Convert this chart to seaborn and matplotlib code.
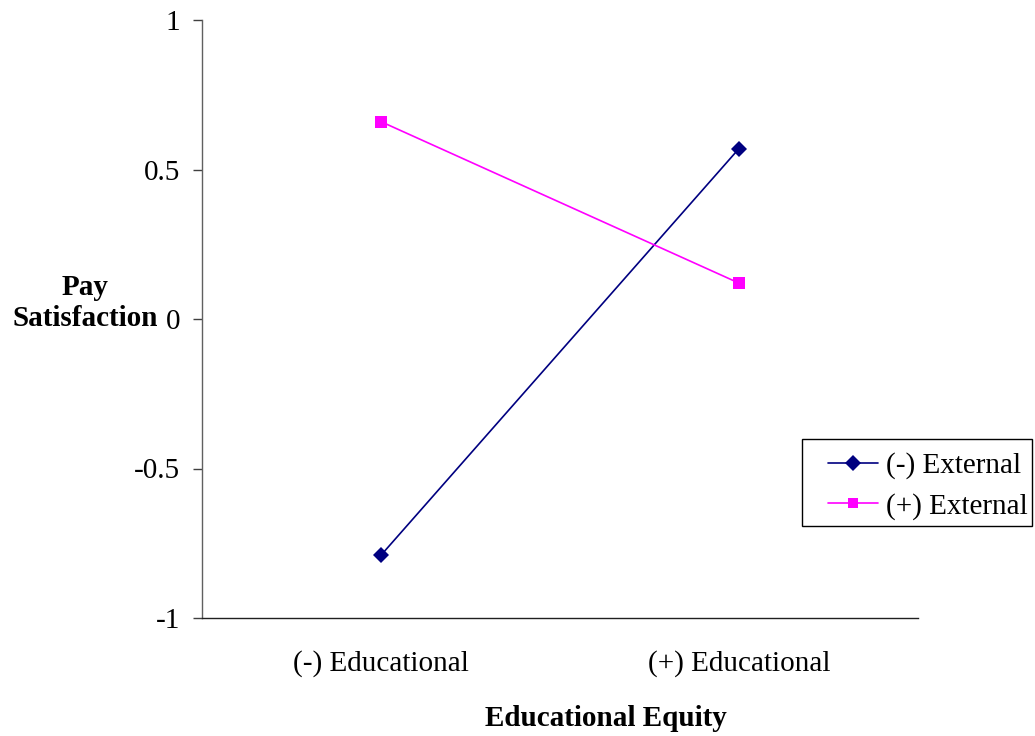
import matplotlib
matplotlib.use("Agg")
import matplotlib.pyplot as plt
import seaborn as sns
import pandas as pd
from matplotlib.lines import Line2D
from matplotlib.patches import Rectangle

categories = ["(-) Educational", "(+) Educational"]
series_names = ["(-) External", "(+) External"]
neg_external = [-0.79, 0.57]
pos_external = [0.66, 0.12]
y_ticks = [-1, -0.5, 0, 0.5, 1]
y_tick_labels = ["-1", "-0.5", "0", "0.5", "1"]

rows = []
for name, vals in zip(series_names, [neg_external, pos_external]):
    for c, v in zip(categories, vals):
        rows.append({"cat": c, "val": v, "series": name})
df = pd.DataFrame(rows)

sns.set_style("white")
plt.rcParams["font.family"] = ["Liberation Serif", "DejaVu Serif"]
plt.rcParams["text.color"] = "black"
plt.rcParams["axes.labelcolor"] = "black"
plt.rcParams["xtick.color"] = "black"
plt.rcParams["ytick.color"] = "black"

W, H = 1035, 736
fig = plt.figure(figsize=(W/100, H/100), dpi=100)
ax = fig.add_axes([202/W, 1-618/H, (918-202)/W, (618-20)/H])

palette = {series_names[0]: "#000080", series_names[1]: "#FF00FF"}
markers = {series_names[0]: "D", series_names[1]: "s"}
sns.lineplot(data=df, x="cat", y="val", hue="series", style="series",
             palette=palette, markers=markers, dashes=False, ax=ax,
             linewidth=1.2, markersize=8, markeredgewidth=0, legend=False)

ax.set_xlim(-0.5, 1.5)
ax.set_ylim(-1, 1)
ax.set_yticks(y_ticks)
ax.set_yticklabels(y_tick_labels)
ax.tick_params(axis="y", length=6.5, width=1, color="#404040", pad=9, labelsize=21, left=True, direction="out")
ax.tick_params(axis="x", length=0, pad=23, labelsize=21)
for s in ["top", "right"]:
    ax.spines[s].set_visible(False)
ax.spines["left"].set_color("#606060")
ax.spines["bottom"].set_color("#202020")
ax.spines["left"].set_linewidth(1)
ax.spines["bottom"].set_linewidth(1)

ax.set_xlabel("Educational Equity", fontsize=21, fontweight="bold", labelpad=20)
ax.xaxis.set_label_coords((606-202)/716, -0.145)
ax.xaxis.label.set_va("top")
ax.set_ylabel("Pay\nSatisfaction", fontsize=21, fontweight="bold", rotation=0,
              ha="center", va="center", multialignment="center")
ax.yaxis.set_label_coords(-0.163, 0.527)

handles = [Line2D([], [], color=palette[n], marker=markers[n], markersize=8.5 if n == series_names[0] else 7.5,
                  markeredgewidth=0, linewidth=1.2) for n in series_names]
leg = fig.legend(handles, series_names, loc="center left", bbox_to_anchor=(828/W, 1-486/H),
                 fontsize=21, frameon=False,
                 handlelength=1.72, handletextpad=0.28, borderpad=0, labelspacing=0.46,
                 borderaxespad=0)
fig.patches.append(Rectangle((801.5/W, 1-526/H), (1031.5-801.5)/W, (526-439)/H,
                             transform=fig.transFigure, fill=False, edgecolor="black", linewidth=1))

fig.savefig("out.png", dpi=100)
